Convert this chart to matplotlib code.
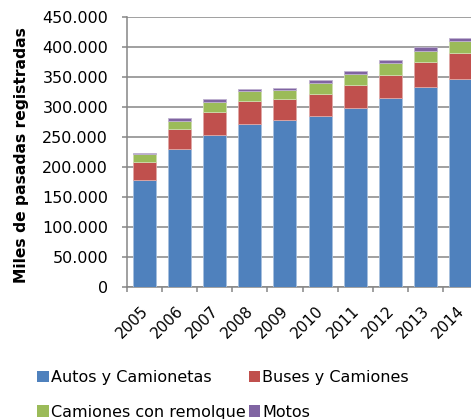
import numpy as np
import matplotlib
matplotlib.use("Agg")
from matplotlib import pyplot as plt
from matplotlib.ticker import FuncFormatter, FixedLocator
from matplotlib.patches import Patch
from matplotlib.transforms import ScaledTranslation

anios = ['2005', '2006', '2007', '2008', '2009', '2010', '2011', '2012', '2013', '2014']
autos = [178000, 229200, 253600, 270900, 277500, 284200, 297500, 314200, 333000, 345800]
buses = [30000, 34400, 38300, 38300, 35000, 37700, 39400, 39300, 42100, 43300]
remolque = [13300, 13300, 16100, 17700, 15500, 18300, 18300, 19500, 18400, 20000]
motos = [1700, 5000, 5000, 2800, 3900, 4500, 4400, 4400, 5600, 5000]

series = ['Autos y Camionetas', 'Buses y Camiones', 'Camiones con remolque', 'Motos']
colores = ['#4F81BD', '#C0504D', '#9BBB59', '#8064A2']
bordes = ['#A7C0DE', '#DFA8A6', '#CDDDAC', '#BFB1D0']

plt.rcParams['font.family'] = 'DejaVu Sans'

fig = plt.figure(figsize=(4.71, 4.19), dpi=100)
ax = fig.add_axes([127 / 471, 1 - 287 / 419, 351 / 471, 270.3 / 419])

x = np.arange(len(anios))
base = np.zeros(len(anios))
for datos, c, e in zip([autos, buses, remolque, motos], colores, bordes):
    ax.bar(x, datos, 0.655, bottom=base, color=c, edgecolor=e, linewidth=0.6, zorder=3)
    base = base + np.array(datos)

ax.set_xlim(-0.5, len(anios) - 0.5)
ax.set_ylim(0, 450000)
ax.yaxis.set_major_locator(FixedLocator(np.arange(0, 450001, 50000)))
ax.yaxis.set_major_formatter(FuncFormatter(lambda v, p: f'{int(v):,}'.replace(',', '.')))
ax.grid(axis='y', color='#868686', linewidth=1.1, zorder=0)

ax.set_xticks(x)
ax.set_xticklabels(anios, rotation=45, ha='right', rotation_mode='anchor')
ax.set_xticks(np.arange(-0.5, len(anios), 1), minor=True)
ax.tick_params(axis='x', which='major', length=0, pad=6, labelsize=11, colors='black')
ax.tick_params(axis='x', which='minor', length=3.6, color='#868686', width=1.1)
ax.tick_params(axis='y', length=3.6, color='#868686', width=1.1, labelsize=11.5, pad=10)
for lab in ax.get_xticklabels():
    lab.set_transform(lab.get_transform() + ScaledTranslation(-0.04, -0.08, fig.dpi_scale_trans))

for s in ['top', 'right']:
    ax.spines[s].set_visible(False)
ax.spines['left'].set_color('#868686')
ax.spines['left'].set_linewidth(1.1)
ax.spines['bottom'].set_color('#868686')
ax.spines['bottom'].set_linewidth(1.1)

fig.text(22 / 471, 1 - 155.5 / 419, 'Miles de pasadas registradas', rotation=90,
         ha='center', va='center', fontsize=11.2, fontweight='bold')

# orden para que queden en filas: Autos, Buses / Camiones, Motos
orden = [0, 2, 1, 3]
handles = [Patch(facecolor=colores[i], edgecolor='none') for i in orden]
fig.legend(handles, [series[i] for i in orden], ncol=2, loc='upper left',
           bbox_to_anchor=(31 / 471, 1 - 364 / 419),
           frameon=False, fontsize=11.5, handlelength=0.7, handleheight=0.7,
           handletextpad=0.15, columnspacing=0.2, labelspacing=1.2, borderaxespad=0)

fig.savefig('out.png', dpi=100)
